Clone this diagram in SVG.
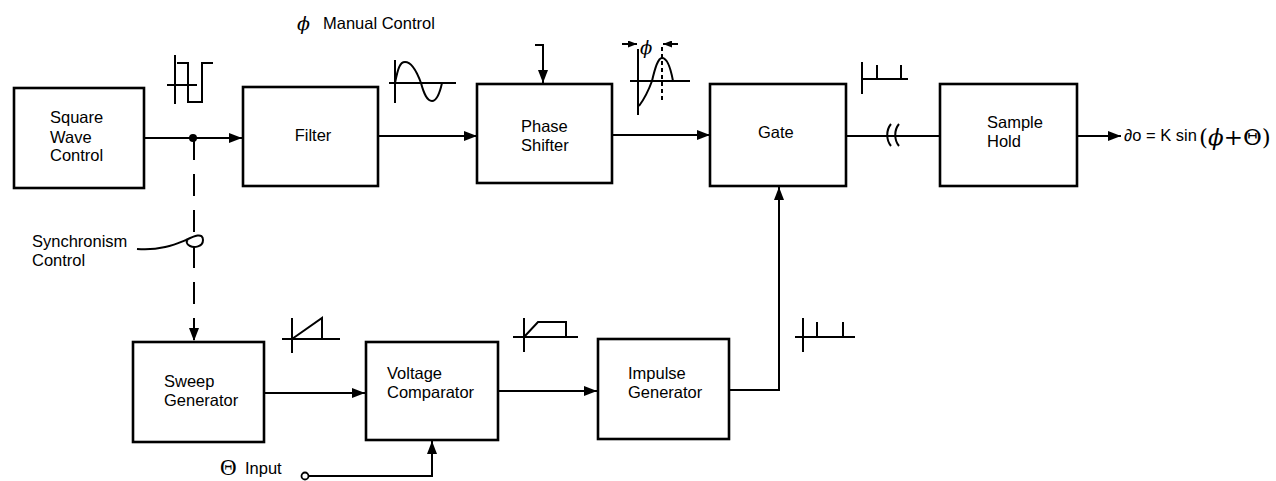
<svg xmlns="http://www.w3.org/2000/svg" width="1276" height="481" viewBox="0 0 1276 481">
<style>
.box{fill:#fff;stroke:#000;stroke-width:2.6}
.t{font-family:"Liberation Sans",Arial,sans-serif;font-size:16.5px;fill:#000}
.ln{fill:none;stroke:#000;stroke-width:2}
.wv{fill:none;stroke:#000;stroke-width:2}
.sym{font-family:"DejaVu Serif","Liberation Serif",serif;fill:#000}
</style>
<defs>
<marker id="ah" markerWidth="13" markerHeight="10" refX="13" refY="5" orient="auto" markerUnits="userSpaceOnUse">
<path d="M0,0 L13,5 L0,10 z" fill="#000"/>
</marker>
<marker id="ahs" markerWidth="9" markerHeight="7" refX="9" refY="3.5" orient="auto" markerUnits="userSpaceOnUse">
<path d="M0,0 L9,3.5 L0,7 z" fill="#000"/>
</marker>
</defs>
<rect width="1276" height="481" fill="#fff"/>

<g id="connectors">
<path class="ln" d="M144,138 H242" marker-end="url(#ah)"/>
<circle cx="193" cy="138" r="4" fill="#000"/>
<path class="ln" d="M194,138 V341" stroke-dasharray="22,14" marker-end="url(#ah)"/>
<path class="ln" d="M378,136 H477" marker-end="url(#ah)"/>
<path class="ln" d="M612,135 H710" marker-end="url(#ah)"/>
<path class="ln" d="M846,136 H940"/>
<path class="ln" d="M891,124 C886,130 886,140 891,146 M899,124 C894,130 894,140 899,146" fill="#fff"/>
<path class="ln" d="M1077,136 H1121" marker-end="url(#ah)"/>
<path class="ln" d="M535,45 H543 V83" marker-end="url(#ah)"/>
<path class="ln" d="M264,393 H365" marker-end="url(#ah)"/>
<path class="ln" d="M498,391 H597" marker-end="url(#ah)"/>
<path class="ln" d="M729,390 H779 V187" marker-end="url(#ah)"/>
<circle cx="305" cy="476" r="3.5" fill="#fff" stroke="#000" stroke-width="1.8"/>
<path class="ln" d="M308.5,476 H432 V441" marker-end="url(#ah)"/>
<path class="ln" d="M137,249 C160,251 176,244 186,240 C194,236 203,232 203,240 C203,247 194,248 190,246 C186,244 186,241 188,240"/>
</g>

<g id="node-square-wave">
<rect class="box" x="14" y="88" width="130" height="100"/>
<text class="t" x="50" y="123">Square</text>
<text class="t" x="50" y="143">Wave</text>
<text class="t" x="50" y="161">Control</text>
</g>
<g id="node-filter">
<rect class="box" x="243" y="87" width="135" height="99"/>
<text class="t" x="313" y="141" text-anchor="middle">Filter</text>
</g>
<g id="node-phase-shifter">
<rect class="box" x="477" y="84" width="135" height="99"/>
<text class="t" x="521" y="132">Phase</text>
<text class="t" x="521" y="151">Shifter</text>
</g>
<g id="node-gate">
<rect class="box" x="710" y="84" width="136" height="102"/>
<text class="t" x="758" y="138">Gate</text>
</g>
<g id="node-sample-hold">
<rect class="box" x="940" y="84" width="137" height="102"/>
<text class="t" x="987" y="128">Sample</text>
<text class="t" x="987" y="147">Hold</text>
</g>
<g id="node-sweep">
<rect class="box" x="133" y="342" width="131" height="100"/>
<text class="t" x="164" y="387">Sweep</text>
<text class="t" x="164" y="406">Generator</text>
</g>
<g id="node-comparator">
<rect class="box" x="366" y="342" width="132" height="98"/>
<text class="t" x="387" y="379">Voltage</text>
<text class="t" x="387" y="398">Comparator</text>
</g>
<g id="node-impulse">
<rect class="box" x="598" y="339" width="131" height="100"/>
<text class="t" x="628" y="379">Impulse</text>
<text class="t" x="628" y="398">Generator</text>
</g>

<g id="labels">
<text class="sym" x="297" y="30" font-size="19" font-style="italic">ϕ</text>
<text class="t" x="323" y="29" font-size="17">Manual Control</text>
<text class="t" x="32" y="247">Synchronism</text>
<text class="t" x="32" y="266">Control</text>
<text x="220" y="475" font-family="Liberation Serif,serif" font-size="23">Θ</text>
<text class="t" x="245" y="474">Input</text>
<text class="t" x="1124" y="141" font-size="14">∂o = K sin</text>
<text class="sym" x="1199" y="145" font-size="23">(<tspan font-style="italic">ϕ</tspan>+Θ)</text>
<text class="sym" x="640" y="54" font-size="18" font-style="italic">ϕ</text>
</g>

<g id="waveforms">
<path class="wv" d="M167,85 H197 M175,55 V104 M177,63 H188 V102 H202 V63 H213"/>
<path class="wv" d="M389,83 H456 M395,60 V103 M395,83 C398,68 400,62 405,62 C412,62 417,72 421,83 C424,94 427,101 432,101 C437,101 440,92 442,83"/>
<path class="wv" d="M630,81 H690 M638,49 V115 M639,106 C645,98 648,92 652,81 C655,68 658,58 662,58 C668,58 671,70 673,81"/>
<path class="wv" d="M662,47 V102" stroke-dasharray="4,3" stroke-width="1.6"/>
<path class="wv" d="M622,44 H637" marker-end="url(#ahs)"/>
<path class="wv" d="M678,44 H663" marker-end="url(#ahs)"/>
<path class="wv" d="M862,62 V94 M862,79 H908 M877,65 V79 M901,65 V79"/>
<path class="wv" d="M292,318 V353 M282,339 H340 M292,339 L322,318 V339"/>
<path class="wv" d="M524,318 V352 M513,337 H578 M524,337 L538,322 H566 V337"/>
<path class="wv" d="M803,318 V352 M795,337 H855 M817,322 V337 M843,322 V337"/>
</g>
</svg>
